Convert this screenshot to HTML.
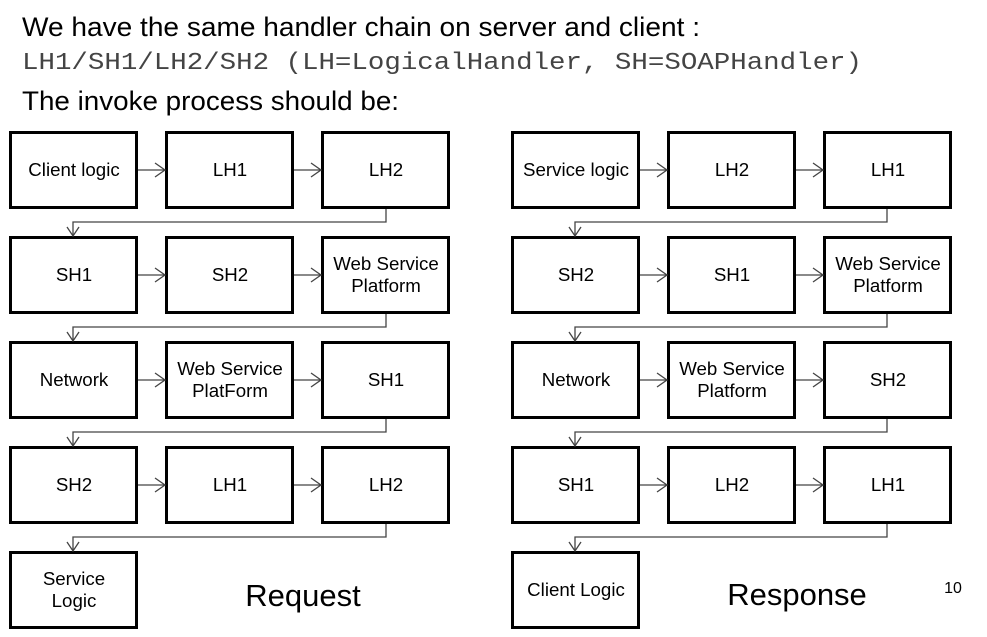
<!DOCTYPE html>
<html><head><meta charset="utf-8"><style>
html,body{margin:0;padding:0;background:#fff;}
svg{display:block;}
text{font-family:"Liberation Sans",Arial,sans-serif;fill:#000;}
.b{fill:#fff;stroke:#000;stroke-width:3;}
.l{fill:none;stroke:#444;stroke-width:1.3;}
.t{font-size:18.7px;text-anchor:middle;}
</style></head><body>
<svg width="987" height="637" viewBox="0 0 987 637">
<text x="22" y="36" font-size="27" textLength="678" lengthAdjust="spacingAndGlyphs">We have the same handler chain on  server and client :</text>
<text x="22" y="69" font-size="24" style="font-family:'Liberation Mono',monospace;fill:#444" textLength="840" lengthAdjust="spacingAndGlyphs">LH1/SH1/LH2/SH2 (LH=LogicalHandler, SH=SOAPHandler)</text>
<text x="22" y="110" font-size="27" textLength="377" lengthAdjust="spacingAndGlyphs">The invoke process should be:</text>

<g id="boxes">
<rect class="b" x="10.5" y="132.5" width="126" height="75"/><rect class="b" x="166.5" y="132.5" width="126" height="75"/><rect class="b" x="322.5" y="132.5" width="126" height="75"/>
<rect class="b" x="10.5" y="237.5" width="126" height="75"/><rect class="b" x="166.5" y="237.5" width="126" height="75"/><rect class="b" x="322.5" y="237.5" width="126" height="75"/>
<rect class="b" x="10.5" y="342.5" width="126" height="75"/><rect class="b" x="166.5" y="342.5" width="126" height="75"/><rect class="b" x="322.5" y="342.5" width="126" height="75"/>
<rect class="b" x="10.5" y="447.5" width="126" height="75"/><rect class="b" x="166.5" y="447.5" width="126" height="75"/><rect class="b" x="322.5" y="447.5" width="126" height="75"/>
<rect class="b" x="10.5" y="552.5" width="126" height="75"/>
<rect class="b" x="512.5" y="132.5" width="126" height="75"/><rect class="b" x="668.5" y="132.5" width="126" height="75"/><rect class="b" x="824.5" y="132.5" width="126" height="75"/>
<rect class="b" x="512.5" y="237.5" width="126" height="75"/><rect class="b" x="668.5" y="237.5" width="126" height="75"/><rect class="b" x="824.5" y="237.5" width="126" height="75"/>
<rect class="b" x="512.5" y="342.5" width="126" height="75"/><rect class="b" x="668.5" y="342.5" width="126" height="75"/><rect class="b" x="824.5" y="342.5" width="126" height="75"/>
<rect class="b" x="512.5" y="447.5" width="126" height="75"/><rect class="b" x="668.5" y="447.5" width="126" height="75"/><rect class="b" x="824.5" y="447.5" width="126" height="75"/>
<rect class="b" x="512.5" y="552.5" width="126" height="75"/>
</g>

<g class="l">
<path d="M138 170H165M155 163L165 170L155 177M294 170H321M311 163L321 170L311 177"/>
<path d="M138 275H165M155 268L165 275L155 282M294 275H321M311 268L321 275L311 282"/>
<path d="M138 380H165M155 373L165 380L155 387M294 380H321M311 373L321 380L311 387"/>
<path d="M138 485H165M155 478L165 485L155 492M294 485H321M311 478L321 485L311 492"/>
<path d="M640 170H667M657 163L667 170L657 177M796 170H823M813 163L823 170L813 177"/>
<path d="M640 275H667M657 268L667 275L657 282M796 275H823M813 268L823 275L813 282"/>
<path d="M640 380H667M657 373L667 380L657 387M796 380H823M813 373L823 380L813 387"/>
<path d="M640 485H667M657 478L667 485L657 492M796 485H823M813 478L823 485L813 492"/>
<path d="M386 209V222H73V236M67 227L73 236L79 227"/>
<path d="M386 314V327H73V341M67 332L73 341L79 332"/>
<path d="M386 419V432H73V446M67 437L73 446L79 437"/>
<path d="M386 524V537H73V551M67 542L73 551L79 542"/>
<path d="M887 209V222H575V236M569 227L575 236L581 227"/>
<path d="M887 314V327H575V341M569 332L575 341L581 332"/>
<path d="M887 419V432H575V446M569 437L575 446L581 437"/>
<path d="M887 524V537H575V551M569 542L575 551L581 542"/>
</g>

<g>
<text class="t" x="74" y="176">Client logic</text><text class="t" x="230" y="176">LH1</text><text class="t" x="386" y="176">LH2</text>
<text class="t" x="74" y="281">SH1</text><text class="t" x="230" y="281">SH2</text><text class="t" x="386" y="270">Web Service</text><text class="t" x="386" y="292">Platform</text>
<text class="t" x="74" y="386">Network</text><text class="t" x="230" y="375">Web Service</text><text class="t" x="230" y="397">PlatForm</text><text class="t" x="386" y="386">SH1</text>
<text class="t" x="74" y="491">SH2</text><text class="t" x="230" y="491">LH1</text><text class="t" x="386" y="491">LH2</text>
<text class="t" x="74" y="585">Service</text><text class="t" x="74" y="607">Logic</text>
<text class="t" x="576" y="176">Service logic</text><text class="t" x="732" y="176">LH2</text><text class="t" x="888" y="176">LH1</text>
<text class="t" x="576" y="281">SH2</text><text class="t" x="732" y="281">SH1</text><text class="t" x="888" y="270">Web Service</text><text class="t" x="888" y="292">Platform</text>
<text class="t" x="576" y="386">Network</text><text class="t" x="732" y="375">Web Service</text><text class="t" x="732" y="397">Platform</text><text class="t" x="888" y="386">SH2</text>
<text class="t" x="576" y="491">SH1</text><text class="t" x="732" y="491">LH2</text><text class="t" x="888" y="491">LH1</text>
<text class="t" x="576" y="596">Client Logic</text>
</g>

<text x="303" y="606" font-size="31" text-anchor="middle">Request</text>
<text x="797" y="605" font-size="31" text-anchor="middle">Response</text>
<text x="953" y="593" font-size="16" text-anchor="middle">10</text>
</svg>
</body></html>
